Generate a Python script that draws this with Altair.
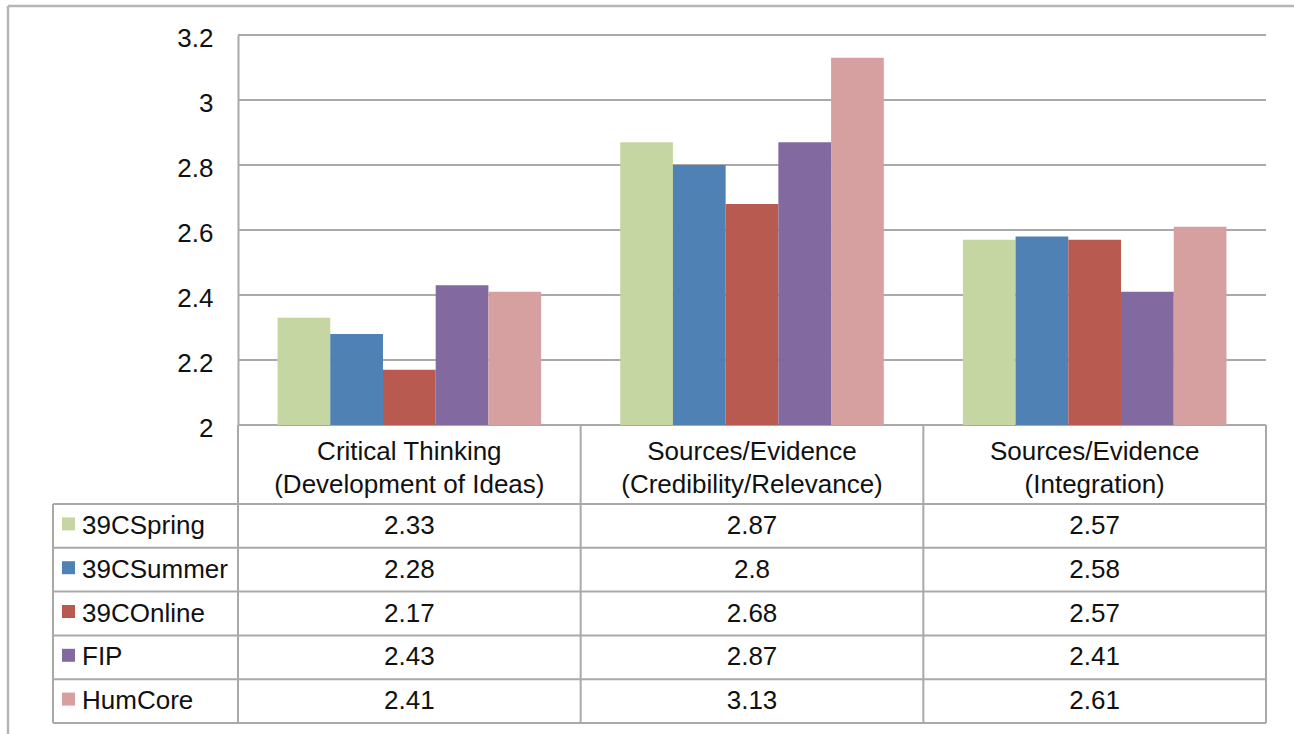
import altair as alt
import pandas as pd

# ---- data -------------------------------------------------------------
categories = [
    "Critical Thinking (Development of Ideas)",
    "Sources/Evidence (Credibility/Relevance)",
    "Sources/Evidence (Integration)",
]
header_labels = [
    "Critical Thinking\n(Development of Ideas)",
    "Sources/Evidence\n(Credibility/Relevance)",
    "Sources/Evidence\n(Integration)",
]
series = ["39CSpring", "39CSummer", "39COnline", "FIP", "HumCore"]
colors = ["#C5D6A3", "#4F81B4", "#B85A50", "#826AA0", "#D6A0A0"]

spring = [2.33, 2.87, 2.57]
summer = [2.28, 2.8, 2.58]
online = [2.17, 2.68, 2.57]
fip = [2.43, 2.87, 2.41]
humcore = [2.41, 3.13, 2.61]

y_ticks = [2, 2.2, 2.4, 2.6, 2.8, 3, 3.2]

# ---- tables -----------------------------------------------------------
values_by_series = [spring, summer, online, fip, humcore]
rows = []
for name, vals in zip(series, values_by_series):
    for cat, v in zip(categories, vals):
        rows.append({"series": name, "category": cat, "value": v, "label": f"{v:g}"})
df = pd.DataFrame(rows)
cat_df = pd.DataFrame({"category": categories, "header": header_labels})
series_df = pd.DataFrame({"series": series})
grid_df = pd.DataFrame({"tick": y_ticks})
one = pd.DataFrame({"k": [0]})

# ---- layout -----------------------------------------------------------
W = 1213          # plot width: legend column + three category columns
H = 688           # plot height: bar area + data table
LEGEND_W = 185    # width of the series-name column
BAR_H = 390       # height of the bar area
HEADER_H = 79     # height of the category header row
FONT = "Liberation Sans"
FS = 26
LINE = "#A9A9A9"
TXT = "#111111"

x_scale = alt.Scale(domain=categories, range=[LEGEND_W, W], paddingInner=0, paddingOuter=0)
xo_scale = alt.Scale(domain=series, paddingInner=0, paddingOuter=0.75)
y_scale = alt.Scale(domain=[2, 3.2], range=[BAR_H, 0], zero=False, nice=False)
row_scale = alt.Scale(domain=series, range=[BAR_H + HEADER_H, H], paddingInner=0, paddingOuter=0)
color_scale = alt.Scale(domain=series, range=colors)

y_axis = alt.Axis(
    values=y_ticks,
    format="~g",
    orient="left",
    offset=-LEGEND_W,
    title=None,
    grid=False,
    ticks=False,
    tickSize=0,
    domainColor=LINE,
    domainWidth=2,
    labelPadding=25,
    labelFont=FONT,
    labelFontSize=FS,
    labelColor=TXT,
    labelOffset=3,
)

# ---- bar area ---------------------------------------------------------
grid = alt.Chart(grid_df).mark_rule(color=LINE, strokeWidth=2).encode(
    y=alt.Y("tick:Q", scale=y_scale, axis=y_axis),
    x=alt.value(LEGEND_W),
    x2=alt.value(W),
)

bars = alt.Chart(df).mark_bar().encode(
    x=alt.X("category:N", scale=x_scale, axis=None),
    xOffset=alt.XOffset("series:N", scale=xo_scale),
    y=alt.Y("value:Q", scale=y_scale, axis=y_axis),
    y2=alt.datum(2),
    color=alt.Color("series:N", scale=color_scale, legend=None),
)

top = alt.layer(grid, bars)

# ---- data table -------------------------------------------------------
row_lines = alt.Chart(series_df).mark_rule(color=LINE, strokeWidth=2).encode(
    y=alt.Y("series:N", scale=row_scale, axis=None, bandPosition=0),
    x=alt.value(0),
    x2=alt.value(W),
)
row_bottom = alt.Chart(series_df.tail(1)).mark_rule(color=LINE, strokeWidth=2).encode(
    y=alt.Y("series:N", scale=row_scale, axis=None, bandPosition=1),
    x=alt.value(0),
    x2=alt.value(W),
)

value_text = alt.Chart(df).mark_text(
    font=FONT, fontSize=FS, color=TXT, align="center", baseline="middle"
).encode(
    x=alt.X("category:N", scale=x_scale, axis=None),
    y=alt.Y("series:N", scale=row_scale, axis=None),
    text="label:N",
)

swatches = alt.Chart(series_df).mark_square(size=169, opacity=1, yOffset=-2).encode(
    x=alt.value(15.5),
    y=alt.Y("series:N", scale=row_scale, axis=None),
    color=alt.Color("series:N", scale=color_scale, legend=None),
)

series_text = alt.Chart(series_df).mark_text(
    font=FONT, fontSize=FS, color=TXT, align="left", baseline="middle"
).encode(
    x=alt.value(29),
    y=alt.Y("series:N", scale=row_scale, axis=None),
    text="series:N",
)

table = alt.layer(row_lines, row_bottom, value_text, swatches, series_text)

# column dividers and header labels
col_lines = alt.Chart(cat_df).mark_rule(color=LINE, strokeWidth=2).encode(
    x=alt.X("category:N", scale=x_scale, axis=None, bandPosition=0),
    y=alt.value(BAR_H),
    y2=alt.value(H),
)
col_right = alt.Chart(cat_df.tail(1)).mark_rule(color=LINE, strokeWidth=2).encode(
    x=alt.X("category:N", scale=x_scale, axis=None, bandPosition=1),
    y=alt.value(BAR_H),
    y2=alt.value(H),
)
legend_left = alt.Chart(one).mark_rule(color=LINE, strokeWidth=2).encode(
    x=alt.value(0),
    y=alt.value(BAR_H + HEADER_H),
    y2=alt.value(H),
)
# first line of each two-line header sits at this y; the second follows one lineHeight below
header_text = alt.Chart(cat_df).mark_text(
    font=FONT, fontSize=FS, color=TXT, align="center", baseline="middle",
    lineBreak="\n", lineHeight=33,
).encode(
    x=alt.X("category:N", scale=x_scale, axis=None),
    y=alt.value(BAR_H + 27),
    text="header:N",
)

# outer frame of the chart sheet
frame_left = alt.Chart(one).mark_rule(color="#B5B5B5", strokeWidth=2.5).encode(
    x=alt.value(-45), y=alt.value(-29), y2=alt.value(H + 30)
)
frame_top = alt.Chart(one).mark_rule(color="#B5B5B5", strokeWidth=2.5).encode(
    y=alt.value(-29), x=alt.value(-45), x2=alt.value(W + 40)
)

chart = (
    alt.layer(top, table, col_lines, col_right, legend_left, header_text, frame_left, frame_top)
    .resolve_scale(y="independent")
    .properties(
        width=W,
        height=H,
        autosize=alt.AutoSizeParams(type="none"),
        padding={"left": 53, "top": 35, "right": 28, "bottom": 11},
        background="white",
    )
    .configure_view(strokeWidth=0)
)

chart.save("out.html", embed_options={"renderer": "svg", "actions": False})
